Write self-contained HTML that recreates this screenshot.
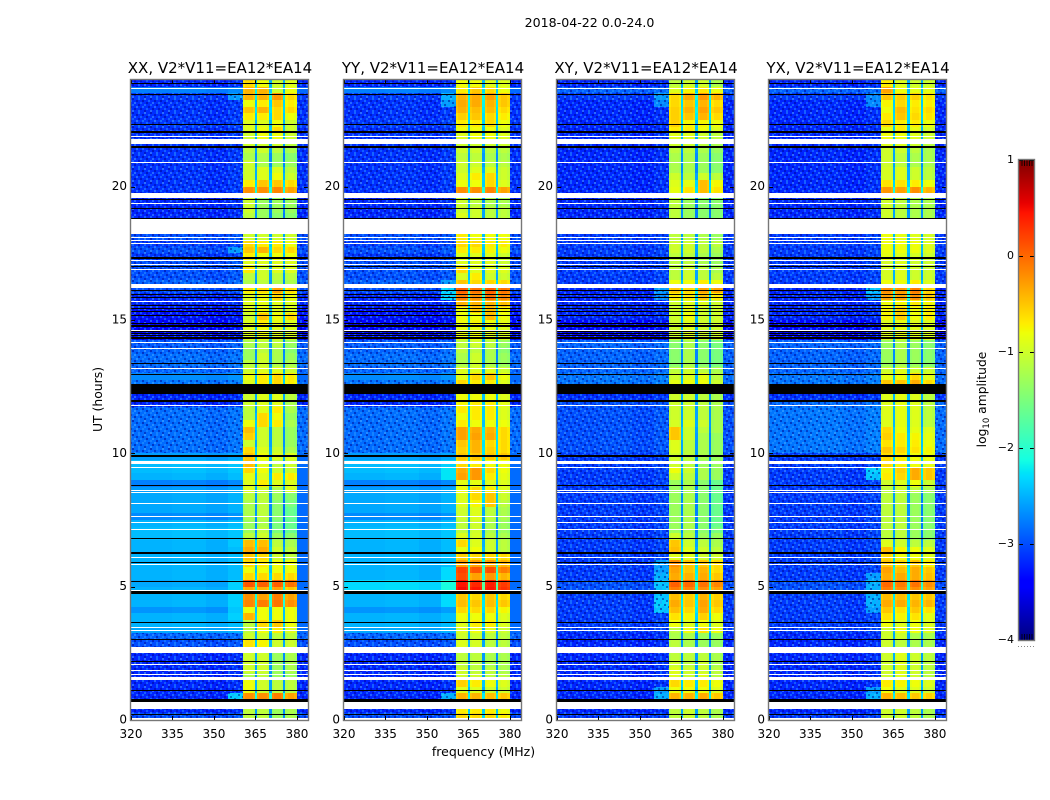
<!DOCTYPE html>
<html lang="en">
<head>
<meta charset="utf-8">
<title>2018-04-22 dynamic spectra</title>
<style>
html,body{margin:0;padding:0;background:#fff;}
svg{display:block;}
text{font-family:"DejaVu Sans","Liberation Sans",sans-serif;fill:#000;}
</style>
</head>
<body>
<svg id="figure" xmlns="http://www.w3.org/2000/svg" width="1050" height="800" viewBox="0 0 1050 800">
  <defs>
    <pattern id="mottle" patternUnits="userSpaceOnUse" width="18" height="14">
      <rect x="0" y="0" width="2" height="2" fill="#5fc0ff" fill-opacity=".45"/>
      <rect x="6" y="0" width="2" height="2" fill="#00008c" fill-opacity=".5"/>
      <rect x="12" y="0" width="2" height="2" fill="#2a9cff" fill-opacity=".5"/>
      <rect x="4" y="2" width="2" height="2" fill="#2a9cff" fill-opacity=".5"/>
      <rect x="10" y="2" width="2" height="2" fill="#00008c" fill-opacity=".45"/>
      <rect x="16" y="2" width="2" height="2" fill="#00008c" fill-opacity=".5"/>
      <rect x="2" y="4" width="2" height="2" fill="#00008c" fill-opacity=".5"/>
      <rect x="8" y="4" width="2" height="2" fill="#5fc0ff" fill-opacity=".4"/>
      <rect x="14" y="4" width="2" height="2" fill="#2a9cff" fill-opacity=".45"/>
      <rect x="0" y="6" width="2" height="2" fill="#2a9cff" fill-opacity=".5"/>
      <rect x="6" y="6" width="2" height="2" fill="#2a9cff" fill-opacity=".45"/>
      <rect x="12" y="6" width="2" height="2" fill="#00008c" fill-opacity=".5"/>
      <rect x="4" y="8" width="2" height="2" fill="#00008c" fill-opacity=".45"/>
      <rect x="10" y="8" width="2" height="2" fill="#5fc0ff" fill-opacity=".4"/>
      <rect x="16" y="8" width="2" height="2" fill="#2a9cff" fill-opacity=".5"/>
      <rect x="2" y="10" width="2" height="2" fill="#2a9cff" fill-opacity=".45"/>
      <rect x="8" y="10" width="2" height="2" fill="#00008c" fill-opacity=".5"/>
      <rect x="14" y="10" width="2" height="2" fill="#00008c" fill-opacity=".45"/>
      <rect x="0" y="12" width="2" height="2" fill="#00008c" fill-opacity=".45"/>
      <rect x="6" y="12" width="2" height="2" fill="#5fc0ff" fill-opacity=".4"/>
      <rect x="12" y="12" width="2" height="2" fill="#2a9cff" fill-opacity=".5"/>
    </pattern>
  </defs>
  <rect x="0" y="0" width="1050" height="800" fill="#fff"/>
  <text x="589.500" y="27" font-size="12.6" text-anchor="middle">2018-04-22 0.0-24.0</text>
  <text x="483.500" y="756" font-size="12.5" text-anchor="middle">frequency (MHz)</text>
  <text x="0" y="0" font-size="12.4" text-anchor="middle" transform="translate(102 399.500) rotate(-90)">UT (hours)</text>
  <text x="0" y="0" font-size="12.3" text-anchor="middle" transform="translate(986 399.500) rotate(-90)">log<tspan font-size="8.5" dy="3">10</tspan><tspan dy="-3"> amplitude</tspan></text>
  <g id="panels"></g>
  <g id="colorbar"></g>
</svg>
<script>
// Log10 amplitude, one row per quarter hour from 0 UT upward: [band1, band2, band3, band4]
const xxBands = [
[-1.1,-1.1,-1.3,-1.2],[-1.1,-1.1,-1.3,-1.2],[-1.1,-1.1,-1.3,-1.2],[-.2,-.2,-.1,-.3],
[-.8,-1,-1.1,-1.1],[-.8,-1,-1.1,-1.1],[-1.2,-1.1,-1.3,-1.3],[-1,-1,-1.3,-1.2],
[-1,-1,-1.3,-1.2],[-1,-1,-1.3,-1.2],[-1,-1,-1.3,-1.2],[-.65,-.75,-1,-1],
[-1,-1,-1.1,-1.1],[-1.1,-.8,-.7,-.9],[-1.1,-.6,-.5,-.8],[-.4,-.8,-.8,-.8],
[-.8,-.8,-.8,-.8],[-.15,-.1,-.05,-.2],[-.2,-.3,-.1,-.3],[-.35,-.4,-.3,-.5],
[.1,.05,.05,-.05],[-.6,-.6,-.6,-.6],[-.8,-.8,-.8,-.8],[-.6,-.7,-.8,-.8],
[-.5,-.6,-1,-1.1],[-.35,-.35,-1,-1.1],[-.45,-.45,-1.1,-1.2],[-1.1,-1,-1.3,-1.4],
[-1.3,-1.1,-1.5,-1.6],[-1.3,-1.2,-1.5,-1.6],[-1.2,-1.1,-1.4,-1.6],[-1.2,-1.1,-1.4,-1.6],
[-1.2,-1.1,-1.4,-1.5],[-1.1,-1.1,-1.3,-1.4],[-.9,-1,-1.2,-.9],[-.9,-.7,-.9,-.9],
[-.85,-.9,-.7,-.7],[-.6,-.8,-1,-1],[-.45,-.9,-1.1,-1],[-.5,-.8,-.9,-.9],
[-.6,-.9,-1,-1.2],[-1,-1,-1.1,-1.3],[-.55,-1,-1.1,-1.3],[-.45,-1,-1.1,-1.3],
[-.8,-.6,-.7,-1.2],[-1.1,-.6,-.8,-1.3],[-1.1,-.9,-.7,-1.2],[-1,-.9,-.9,-1.2],
[-1,-.9,-.9,-1.1],[-.9,-.8,-.8,-.9],[-.9,-.7,-.6,-.7],[-.8,-.7,-.6,-.7],
[-1,-.9,-.9,-1],[-1.1,-1,-1.2,-1.2],[-1.3,-1,-1.2,-1.3],[-1.3,-1.1,-1.2,-1.4],
[-1.2,-1.1,-1.1,-1.3],[-.9,-.8,-.9,-.9],[-.9,-.8,-.9,-.9],[-.9,-.7,-.85,-.9],
[-1,-.5,-.8,-.6],[-.9,-.8,-.9,-.9],[-.9,-.85,-.9,-.9],[-.9,-.8,-.6,-.8],
[-.7,-.6,-.3,-.6],[-1.2,-1.1,-1.2,-1.2],[-1.1,-1,-1.1,-1.1],[-.7,-1,-.9,-.9],
[-.9,-.9,-.9,-.9],[-.7,-.8,-.8,-.8],[-.5,-.4,-.6,-.6],[-.6,-.7,-.7,-.8],
[-1,-1,-1,-1],[-1,-1,-1,-1],[-1,-1,-1,-1],[-1.1,-1.3,-1.4,-1.4],
[-1,-1.3,-1.3,-1.3],[-1,-1.3,-1.3,-1.3],[-1,-1.3,-1.3,-1.3],[-.2,-.2,-.15,-.3],
[-.7,-.5,-.5,-.6],[-1,-.9,-.8,-1],[-1,-.9,-.9,-1.1],[-1,-1.2,-1.3,-1.3],
[-1.2,-1.2,-1.3,-1.4],[-1.1,-1,-1.1,-1.2],[-1,-1,-1,-1.1],[-1,-.8,-.8,-1],
[-.9,-.8,-.6,-1],[-.9,-.9,-.8,-1],[-.7,-.7,-.6,-.8],[-.5,-.4,-.6,-.6],
[-.8,-.7,-.5,-.7],[-.4,-.4,-.25,-.6],[-.4,-.4,-1,-.8],[-.6,-.8,-1,-.9]];

const yyBands = [
[-.6,-.6,-.6,-.7],[-.7,-.7,-.7,-.8],[-.7,-.7,-.7,-.8],[-.4,-.4,-.45,-.5],
[-.9,-.9,-1,-1],[-.55,-.7,-.8,-.9],[-1,-1,-1.1,-1.1],[-1,-1.1,-1.1,-1.2],
[-1.1,-1.1,-1.2,-1.2],[-1.1,-1.1,-1.2,-1.2],[-1.1,-1.1,-1.2,-1.2],[-.9,-.95,-1.1,-1.1],
[-1,-1,-1.1,-1.1],[-.9,-.8,-.9,-1],[-.9,-.7,-.7,-.9],[-.8,-.8,-.8,-.9],
[-.6,-.6,-.6,-.75],[-.45,-.5,-.45,-.5],[-.5,-.6,-.5,-.6],[.5,.45,.45,.3],
[.45,.35,.4,.25],[.15,-.3,-.25,-.4],[.2,.1,.15,-.1],[-.3,-.3,-.3,-.4],
[-.55,-.6,-.6,-.6],[-.85,-.8,-1,-1.1],[-.6,-.9,-1,-1.1],[-.9,-.95,-1.1,-1.2],
[-1.1,-1,-1.2,-1.3],[-1.1,-1,-1.2,-1.3],[-1,-.9,-1.1,-1.2],[-1,-.9,-1.1,-1.2],
[-.9,-.75,-.5,-1.1],[-.9,-.6,-.5,-1],[-.8,-.6,-.7,-.9],[-.85,-.85,-.9,-.9],
[-.3,-.25,-.7,-.85],[-.35,-.25,-.6,-.8],[-.6,-.7,-.8,-.8],[-.5,-.5,-.5,-.5],
[-.55,-.4,-.55,-.6],[-.5,-.4,-.6,-.6],[-.3,-.3,-.35,-.6],[-.3,-.35,-.4,-.6],
[-.7,-.8,-.8,-.8],[-.8,-.7,-.7,-.9],[-.7,-.7,-.7,-.9],[-.75,-.7,-.7,-.85],
[-.8,-.8,-.8,-.9],[-.8,-.8,-.8,-.9],[-.6,-.7,-.7,-.9],[-.85,-.6,-.5,-.8],
[-.9,-.9,-.9,-1],[-1.2,-1,-1.2,-1.3],[-1.2,-1,-1.2,-1.3],[-1.1,-1.1,-1.2,-1.4],
[-1.1,-1,-1.1,-1.3],[-.8,-.8,-.9,-.9],[-.85,-.85,-.85,-.9],[-.8,-.75,-.8,-.85],
[-.8,-.8,-.45,-.8],[-.8,-.5,-.45,-.75],[-.4,-.4,-.4,-.45],[-.1,-.2,-.05,-.15],
[.05,-.05,.05,-.05],[-.5,-.6,-.6,-.6],[-.95,-.7,-1,-1],[-.6,-.9,-.9,-.9],
[-.9,-.9,-.9,-1],[-.9,-.9,-.9,-1],[-.7,-.7,-.75,-.8],[-.6,-.6,-.7,-.7],
[-.7,-.8,-.8,-.8],[-.9,-.9,-.9,-.9],[-.9,-.9,-.9,-.9],[-.9,-1,-1.1,-1.1],
[-1,-1,-1.1,-1.1],[-1,-1.1,-1.2,-1.2],[-1,-1.1,-1.2,-1.2],[-.2,-.2,-.15,-.3],
[-.8,-.8,-.6,-.9],[-.9,-.7,-.6,-1],[-1,-.9,-.9,-1],[-1,-1,-1.1,-1.1],
[-1.1,-1.1,-1.2,-1.2],[-1,-1,-1.1,-1.1],[-1,-1,-1,-1],[-.9,-.8,-.8,-.9],
[-.8,-.8,-.8,-.9],[-.7,-.7,-.6,-.8],[-.55,-.5,-.6,-.7],[-.4,-.45,-.45,-.6],
[-.35,-.35,-.4,-.5],[-.4,-.35,-.3,-.5],[-.7,-.5,-.6,-.8],[-.8,-.8,-.9,-.9]];

const xyBands = [
[-1.1,-1,-1.1,-1.2],[-1.1,-1,-1.1,-1.2],[-1.1,-1,-1.1,-1.2],[-.4,-.4,-.35,-.5],
[-.8,-.8,-.8,-.9],[-.6,-.7,-.7,-.8],[-.9,-1,-.9,-1.1],[-.9,-1,-1,-1.1],
[-1,-1.1,-1,-1.2],[-1.1,-1.1,-1.1,-1.2],[-1.1,-1.1,-1.1,-1.2],[-1.1,-1.2,-1.3,-1.3],
[-1.2,-1.2,-1.3,-1.3],[-1.1,-.8,-.65,-.8],[-.8,-.9,-.8,-.9],[-.65,-.75,-.55,-.8],
[-.45,-.6,-.35,-.6],[-.35,-.5,-.3,-.5],[-.45,-.55,-.4,-.55],[-.1,-.15,-.2,-.3],
[.05,0,-.05,-.15],[-.35,-.4,-.35,-.5],[-.3,-.5,-.4,-.6],[-.2,-.5,-.5,-.6],
[-.9,-.9,-1,-1],[-.45,-.9,-1,-1.1],[-.5,-1,-1.1,-1.2],[-1,-1.1,-1.3,-1.3],
[-1.3,-1.2,-1.4,-1.5],[-1.3,-1.2,-1.4,-1.6],[-1.3,-1.2,-1.4,-1.6],[-1.3,-1.2,-1.4,-1.6],
[-1.3,-1.2,-1.4,-1.6],[-1.3,-1.2,-1.4,-1.6],[-1.3,-1.2,-1.4,-1.6],[-1.3,-1.2,-1.4,-1.6],
[-1,-1.1,-1.2,-1.3],[-.8,-1,-1.2,-1.3],[-1,-1.1,-1.3,-1.3],[-1,-1.1,-1.2,-1.3],
[-.9,-1.1,-1.2,-1.3],[-.9,-1.1,-1.2,-1.3],[-.5,-1,-1.2,-1.3],[-.5,-1,-1.1,-1.2],
[-.95,-.9,-1,-1.2],[-1,-1,-1.1,-1.2],[-1,-1,-1.1,-1.2],[-1,-1,-1.1,-1.2],
[-1,-1,-1.1,-1.2],[-1,-1,-1,-1.1],[-.85,-.8,-.8,-1],[-1,-.9,-.85,-1.1],
[-1.1,-1,-1.1,-1.2],[-1.4,-1.2,-1.4,-1.5],[-1.4,-1.2,-1.4,-1.5],[-1.4,-1.2,-1.4,-1.5],
[-1.4,-1.2,-1.4,-1.5],[-1,-.9,-1,-1],[-1,-.9,-1,-1],[-1,-.9,-1,-1],
[-1,-.8,-1,-1],[-1,-.85,-1,-1],[-1,-.9,-.9,-1],[-.7,-.7,-.5,-.7],
[-.5,-.6,-.3,-.3],[-.8,-.8,-.7,-.8],[-1.1,-1,-1.1,-1.1],[-1.1,-1,-1.1,-1.2],
[-1.1,-1.1,-1.2,-1.3],[-1.1,-1.1,-1.2,-1.3],[-1,-1,-1.1,-1.2],[-1,-1,-1.1,-1.1],
[-1.1,-1.1,-1.2,-1.3],[-1.1,-1.2,-1.3,-1.3],[-1.1,-1.2,-1.3,-1.3],[-1.1,-1.3,-1.4,-1.4],
[-1.1,-1.3,-1.4,-1.4],[-1.1,-1.3,-1.4,-1.4],[-1.1,-1.3,-1.4,-1.4],[-.85,-.65,-.45,-.65],
[-.9,-.85,-.45,-.75],[-1,-1.1,-1,-1.1],[-1.2,-1.2,-1.3,-1.4],[-1.2,-1.2,-1.3,-1.4],
[-1.2,-1.2,-1.3,-1.4],[-1.1,-1.1,-1.2,-1.3],[-1,-1,-1.1,-1.2],[-.9,-.9,-1,-1.1],
[-.7,-.7,-.8,-.9],[-.55,-.75,-.75,-.8],[-.55,-.5,-.4,-.6],[-.55,-.4,-.3,-.5],
[-.6,-.5,-.4,-.6],[-.6,-.35,-.25,-.4],[-.9,-.75,-.65,-.8],[-1.1,-1,-1,-1.2]];

const yxBands = [
[-1,-1,-1.1,-1.2],[-1,-1,-1.1,-1.2],[-1,-1,-1.1,-1.2],[-.4,-.45,-.5,-.55],
[-.8,-.9,-.9,-1],[-.7,-.75,-.8,-.9],[-1,-.9,-1,-1.1],[-1,-.9,-1,-1.1],
[-1,-.9,-1,-1.1],[-1,-.9,-1,-1.1],[-1,-.9,-1,-1.1],[-1,-1.1,-1.2,-1.2],
[-1,-1,-1.2,-1.2],[-1,-.8,-.8,-.9],[-.8,-.9,-.8,-.9],[-.65,-.75,-.65,-.85],
[-.5,-.65,-.5,-.65],[-.35,-.35,-.4,-.4],[-.45,-.45,-.5,-.5],[-.1,-.2,-.2,-.3],
[0,-.1,-.05,-.2],[-.35,-.35,-.35,-.45],[-.3,-.45,-.35,-.5],[-.5,-.6,-.5,-.7],
[-.6,-.8,-.8,-.9],[-.45,-.75,-.8,-.9],[-.9,-1,-1.1,-1.1],[-1.1,-1.1,-1.3,-1.4],
[-1.1,-1.1,-1.3,-1.4],[-1.1,-1.1,-1.3,-1.4],[-1.1,-1.1,-1.3,-1.4],[-1.1,-1.1,-1.3,-1.4],
[-1.1,-1.1,-1.3,-1.4],[-1.1,-1.1,-1.3,-1.4],[-1.1,-1,-1.1,-1.2],[-1,-.9,-.8,-1],
[-.7,-.6,-.35,-.5],[-.75,-.55,-.35,-.5],[-.6,-.75,-.8,-.85],[-.6,-.7,-.8,-.8],
[-.5,-.6,-.65,-.75],[-.65,-.7,-.7,-.8],[-.55,-.7,-.75,-.85],[-.6,-.8,-.85,-.9],
[-.9,-.85,-.9,-1.1],[-.9,-.85,-.9,-1.1],[-.9,-.85,-.9,-1.1],[-.9,-.85,-.9,-1.1],
[-.9,-.85,-.9,-1.1],[-.9,-.85,-.9,-1],[-.5,-.5,-.35,-.6],[-.85,-.8,-.6,-.85],
[-1,-.9,-1,-1],[-1.3,-1.2,-1.3,-1.4],[-1.3,-1.2,-1.3,-1.4],[-1.3,-1.2,-1.3,-1.4],
[-1.3,-1.2,-1.3,-1.4],[-.9,-.85,-.9,-.9],[-.9,-.85,-.9,-.9],[-.9,-.85,-.9,-.9],
[-.75,-.55,-.8,-.7],[-.75,-.55,-.8,-.7],[-.8,-.75,-.7,-.75],[-.3,-.3,-.2,-.5],
[-.2,-.25,-.1,-.55],[-.8,-.8,-.7,-.9],[-.95,-.9,-1,-1],[-.95,-.9,-1,-1],
[-.95,-.9,-1,-1],[-.85,-.9,-.95,-1],[-.8,-.8,-.8,-.9],[-.8,-.8,-.8,-.9],
[-.8,-.85,-.9,-.95],[-1,-1.1,-1.2,-1.2],[-1,-1.1,-1.2,-1.2],[-1,-1.1,-1.2,-1.2],
[-1,-1.1,-1.2,-1.2],[-1,-1.1,-1.2,-1.2],[-1,-1.1,-1.2,-1.2],[-.25,-.3,-.2,-.4],
[-.65,-.65,-.7,-.8],[-.95,-.9,-1,-1.1],[-.95,-.9,-1,-1.1],[-1,-1.1,-1.2,-1.2],
[-1,-1.1,-1.2,-1.2],[-1,-1,-1.1,-1.2],[-.9,-.9,-1,-1.1],[-.8,-.8,-.9,-1],
[-.85,-.7,-.85,-.95],[-.6,-.7,-.7,-.8],[-.7,-.5,-.6,-.65],[-.8,-.45,-.65,-.6],
[-.75,-.6,-.7,-.7],[-.5,-.55,-.55,-.65],[-.3,-.8,-.85,-.85],[-.7,-.9,-1,-1]];

// Off-band background level per quarter hour
const parallelBackground = [
-3.0,-3.2,-3.2,-3.2,-3.2,-3.2,-3.2,-3.2,-3.2,-3.2,-3.2,-3.0,
-2.9,-2.55,-2.5,-2.5,-2.65,-2.5,-2.5,-2.5,-2.55,-2.5,-2.5,-2.5,
-2.5,-2.5,-2.5,-2.45,-2.45,-2.5,-2.7,-2.55,-2.55,-2.55,-2.6,-2.75,
-2.5,-2.45,-2.45,-2.6,-2.85,-2.85,-2.85,-2.85,-2.85,-2.85,-2.85,-3.2,
-3.2,-3.2,-2.8,-2.7,-2.9,-2.85,-2.85,-2.9,-2.95,-3.3,-3.35,-3.35,
-3.3,-3.3,-3.2,-3.2,-3.0,-2.9,-3.0,-3.0,-3.0,-3.1,-3.0,-3.1,
-3.0,-3.1,-3.1,-3.2,-3.2,-3.2,-3.2,-3.15,-3.15,-3.15,-3.15,-3.15,
-3.15,-3.15,-3.15,-3.15,-3.15,-3.1,-3.15,-3.15,-3.15,-3.1,-2.75,-3.2];

const crossBackground = [
-3.1,-3.2,-3.2,-3.2,-3.2,-3.2,-3.2,-3.2,-3.2,-3.2,-3.2,-3.2,
-3.2,-3.1,-3.1,-3.1,-3.1,-3.1,-3.1,-3.0,-3.0,-3.1,-3.1,-3.1,
-3.1,-3.1,-3.1,-3.1,-3.1,-3.1,-3.1,-3.1,-3.1,-3.1,-3.1,-3.1,
-3.1,-3.1,-3.1,-3.1,-3.0,-3.0,-3.0,-3.0,-3.0,-3.0,-3.0,-3.0,
-3.15,-3.15,-2.8,-2.8,-2.9,-2.9,-2.9,-2.9,-2.9,-3.35,-3.35,-3.35,
-3.2,-3.2,-3.2,-3.2,-3.2,-3.1,-3.1,-3.1,-3.1,-3.1,-3.1,-3.1,
-3.1,-3.2,-3.2,-3.2,-3.2,-3.2,-3.2,-3.2,-3.2,-3.2,-3.2,-3.2,
-3.2,-3.2,-3.2,-3.2,-3.2,-3.2,-3.2,-3.2,-3.2,-3.1,-2.9,-3.2];

// Panel specific departures from the shared background: [quarter-hour row, level]
const xxBackgroundOverrides = [];
const yyBackgroundOverrides = [[19,-2.3],[20,-2.3]];
const xyBackgroundOverrides = [];
const yxBackgroundOverrides = [[40,-2.8],[41,-2.8],[42,-2.8],[43,-2.8],[44,-2.8],[45,-2.8],[46,-2.8],[47,-2.85]];

// Raised skirt just below the first band: [quarter-hour row, level]
const xxShoulder = [[3,-2.35],[15,-2.35],[16,-2.4],[17,-2.35],[18,-2.35],[19,-2.35],[20,-2.35],[26,-2.4],[27,-2.4],[70,-2.6],[93,-2.6]];
const yyShoulder = [[3,-2.5],[17,-2.3],[18,-2.3],[19,-2.1],[20,-2.1],[21,-2.3],[22,-2.3],[36,-2.25],[37,-2.25],[38,-2.35],[63,-2.3],[64,-2.3],[65,-2.6],[92,-2.6],[93,-2.5]];
const xyShoulder = [[3,-2.5],[4,-2.6],[16,-2.4],[17,-2.35],[18,-2.4],[19,-2.4],[20,-2.4],[21,-2.5],[22,-2.6],[23,-2.6],[63,-2.7],[64,-2.6],[92,-2.7],[93,-2.6]];
const yxShoulder = [[3,-2.5],[4,-2.6],[16,-2.6],[17,-2.5],[18,-2.5],[19,-2.5],[20,-2.5],[21,-2.6],[36,-2.4],[37,-2.35],[63,-2.6],[64,-2.4],[92,-2.7],[93,-2.7]];

// Flagged time ranges in hours, common to all four correlation products
const whiteFlagHours = [
[0,.09],[.41,.68],[1.5,1.61],[1.71,1.74],[1.82,1.86],[2.06,2.1],[2.51,2.74],[3.32,3.38],[3.45,3.49],
[4.84,4.88],[5.81,5.85],[6.08,6.11],[7.13,7.16],[7.37,7.43],[7.61,7.65],[8.1,8.14],[8.51,8.55],[8.59,8.63],
[9.45,9.49],[9.6,9.71],[11.76,11.81],[13.16,13.2],[13.91,13.95],[14.14,14.18],[14.59,14.63],[15.68,15.71],
[16.2,16.35],[16.88,16.91],[17.06,17.1],[17.21,17.25],[17.85,17.89],[17.96,18],[18.07,18.11],[18.22,18.77],
[19.35,19.39],[19.58,19.76],[20.89,20.93],[21.61,21.79],[21.85,21.9],[23.65,23.7]];
const blackFlagHours = [
[.19,.22],[.69,.77],[1.11,1.14],[2.18,2.21],[3.02,3.05],[3.66,3.69],[4.74,4.83],[5.18,5.21],[5.89,5.92],
[6.23,6.29],[6.77,6.81],[8.78,8.82],[9.88,9.92],[11.92,11.95],[11.98,12.01],[12.23,12.6],[12.92,12.96],[13.35,13.39],
[14.29,14.32],[14.35,14.38],[14.41,14.44],[14.48,14.51],[14.54,14.57],[14.74,14.77],[14.8,14.83],[14.86,14.89],
[15.17,15.2],[15.3,15.33],[15.42,15.45],[15.55,15.58],
[15.83,15.86],[15.96,15.99],[16.09,16.12],[16.99,17.03],[17.29,17.36],[18.77,18.81],
[19.16,19.2],[19.5,19.54],[21.45,21.53],[22.01,22.09],[22.31,22.35],[23.42,23.48],[23.85,23.89]];

const bandEdgesMHz = [[360.5,364.8],[365.6,369.9],[370.9,375],[375.8,379.9]];
const backgroundEdgesMHz = [320,335,347,355];
const backgroundTilt = [0,.02,-.02];
const panelTitles = ["XX, V2*V11=EA12*EA14","YY, V2*V11=EA12*EA14","XY, V2*V11=EA12*EA14","YX, V2*V11=EA12*EA14"];
const xTickLabels = [320,335,350,365,380];
const yTickLabels = [0,5,10,15,20];
const colorbarTickLabels = [1,0,-1,-2,-3,-4];

const SVG_NS = "http://www.w3.org/2000/svg";
const panelsRoot = document.getElementById("panels");
const colorbarRoot = document.getElementById("colorbar");
const PANEL_LEFTS = [131,344,557,769];
const PANEL_W = 177, PANEL_TOP = 80, PANEL_BOTTOM = 720;
const FREQ_MIN = 320, FREQ_MAX = 384, HOURS_MAX = 24, ROW_HOURS = .25;
const V_MIN = -4, V_MAX = 1, MOTTLE_BELOW = -2.75;

function ramp(t, pts){
  for(let i = 1; i < pts.length; i++){
    if(t <= pts[i][0]){
      const a = pts[i-1], b = pts[i];
      return a[1] + (b[1]-a[1]) * (t-a[0]) / (b[0]-a[0]);
    }
  }
  return pts[pts.length-1][1];
}
function jet(v){
  const t = Math.max(0, Math.min(1, (v-V_MIN)/(V_MAX-V_MIN)));
  const r = ramp(t, [[0,0],[.35,0],[.66,1],[.89,1],[1,.5]]);
  const g = ramp(t, [[0,0],[.125,0],[.375,1],[.64,1],[.91,0],[1,0]]);
  const b = ramp(t, [[0,.5],[.11,1],[.34,1],[.65,0],[1,0]]);
  return "rgb(" + Math.round(r*255) + "," + Math.round(g*255) + "," + Math.round(b*255) + ")";
}
function xScale(left, f){ return left + (f-FREQ_MIN)/(FREQ_MAX-FREQ_MIN)*PANEL_W; }
function yScale(h){ return PANEL_BOTTOM - h/HOURS_MAX*(PANEL_BOTTOM-PANEL_TOP); }
function make(tag, parent, attrs){
  const el = document.createElementNS(SVG_NS, tag);
  for(const k in attrs){ el.setAttribute(k, attrs[k]); }
  parent.appendChild(el);
  return el;
}
function lookup(pairs, row, fallback){
  for(const p of pairs){ if(p[0] === row){ return p[1]; } }
  return fallback;
}

const panelSeries = [
  {bands:xxBands, bg:parallelBackground, over:xxBackgroundOverrides, shoulder:xxShoulder},
  {bands:yyBands, bg:parallelBackground, over:yyBackgroundOverrides, shoulder:yyShoulder},
  {bands:xyBands, bg:crossBackground, over:xyBackgroundOverrides, shoulder:xyShoulder},
  {bands:yxBands, bg:crossBackground, over:yxBackgroundOverrides, shoulder:yxShoulder}
];

function drawCell(group, left, f0, f1, row, value){
  const x0 = Math.round(xScale(left, f0));
  const x1 = Math.round(xScale(left, f1));
  const y1 = Math.round(yScale(row*ROW_HOURS));
  const y0 = Math.round(yScale((row+1)*ROW_HOURS));
  if(x1 <= x0 || y1 <= y0){ return; }
  const cell = make("rect", group, {x:x0, y:y0, width:x1-x0, height:y1-y0, fill:jet(value), "shape-rendering":"crispEdges"});
  
  
}
function drawMottle(group, left, f0, f1, row){
  const x0 = Math.round(xScale(left, f0));
  const x1 = Math.round(xScale(left, f1));
  const y1 = Math.round(yScale(row*ROW_HOURS));
  const y0 = Math.round(yScale((row+1)*ROW_HOURS));
  const patch = make("rect", group, {x:x0, y:y0, width:x1-x0, height:y1-y0, fill:"url(#mottle)", "shape-rendering":"crispEdges"});
  
  
}

panelSeries.forEach(function(series, p){
  const left = PANEL_LEFTS[p];
  const panel = make("g", panelsRoot, {});
  
  
  const heat = make("g", panel, {});
  
  

  series.bands.forEach(function(levels, row){
    const bg = lookup(series.over, row, series.bg[row]);
    for(let c = 0; c < backgroundTilt.length; c++){
      drawCell(heat, left, backgroundEdgesMHz[c], backgroundEdgesMHz[c+1], row, bg + backgroundTilt[c]);
    }
    drawCell(heat, left, backgroundEdgesMHz[3], bandEdgesMHz[0][0], row, lookup(series.shoulder, row, bg + .05));
    levels.forEach(function(level, b){
      const e = bandEdgesMHz[b];
      drawCell(heat, left, e[0], e[0]+.8, row, level - .08);
      drawCell(heat, left, e[0]+.8, e[1]-.8, row, level);
      drawCell(heat, left, e[1]-.8, e[1], row, level - .08);
      if(b < levels.length-1){
        const notch = .6*(level + levels[b+1])/2 - 1.95;
        drawCell(heat, left, e[1], bandEdgesMHz[b+1][0], row, notch);
      }
    });
    drawCell(heat, left, bandEdgesMHz[3][1], FREQ_MAX, row, Math.min(bg, -2.85));
    if(bg < MOTTLE_BELOW){
      drawMottle(heat, left, FREQ_MIN, bandEdgesMHz[0][0], row);
      drawMottle(heat, left, bandEdgesMHz[3][1], FREQ_MAX, row);
    }
  });

  whiteFlagHours.forEach(function(flag){
    const y0 = Math.round(yScale(flag[1]));
    const h = Math.max(1, Math.round(yScale(flag[0])) - y0);
    const bar = make("rect", panel, {x:left, y:y0, width:PANEL_W, height:h, fill:"#fff", "shape-rendering":"crispEdges"});
    
    
  });
  blackFlagHours.forEach(function(flag){
    const y0 = Math.round(yScale(flag[1]));
    const h = Math.max(1, Math.round(yScale(flag[0])) - y0);
    const bar = make("rect", panel, {x:left, y:y0, width:PANEL_W, height:h, fill:"#000", "shape-rendering":"crispEdges"});
    
    
  });

  xTickLabels.forEach(function(f){
    const x = Math.round(xScale(left, f)) + .5;
    const tickB = make("line", panel, {x1:x, x2:x, y1:PANEL_BOTTOM, y2:PANEL_BOTTOM-4, stroke:"#000", "stroke-width":1});
    
    
    const tickT = make("line", panel, {x1:x, x2:x, y1:PANEL_TOP, y2:PANEL_TOP+4, stroke:"#000", "stroke-width":1});
    
    
    const label = make("text", panel, {x:xScale(left, f), y:738, "font-size":12, "text-anchor":"middle"});
    label.textContent = String(f);
    
    
  });
  yTickLabels.forEach(function(h){
    const y = Math.round(yScale(h)) + .5;
    const tickL = make("line", panel, {x1:left, x2:left+4, y1:y, y2:y, stroke:"#000", "stroke-width":1});
    
    
    const tickR = make("line", panel, {x1:left+PANEL_W, x2:left+PANEL_W-4, y1:y, y2:y, stroke:"#000", "stroke-width":1});
    
    
    const label = make("text", panel, {x:left-4, y:yScale(h)+3.5, "font-size":12, "text-anchor":"end"});
    label.textContent = String(h);
    
    
  });

  const frame = make("rect", panel, {x:left-.5, y:PANEL_TOP-.5, width:PANEL_W+1, height:PANEL_BOTTOM-PANEL_TOP+1, fill:"none", stroke:"#777", "stroke-width":1.4});
  
  

  const title = make("text", panel, {x:left+PANEL_W/2+.5, y:73, "font-size":15, "text-anchor":"middle"});
  title.textContent = panelTitles[p];
  
  
});

// Colorbar
const CB_LEFT = 1019, CB_RIGHT = 1034, CB_TOP = 160, CB_BOTTOM = 640;
function cbY(v){ return CB_BOTTOM - (v-V_MIN)/(V_MAX-V_MIN)*(CB_BOTTOM-CB_TOP); }
for(let y = CB_TOP; y < CB_BOTTOM; y++){
  const v = V_MIN + (CB_BOTTOM-y-.5)/(CB_BOTTOM-CB_TOP)*(V_MAX-V_MIN);
  const strip = make("rect", colorbarRoot, {x:CB_LEFT, y:y, width:CB_RIGHT-CB_LEFT, height:1, fill:jet(v), "shape-rendering":"crispEdges"});
  
  
}
const minorXs = [1022,1024.500,1027,1029.500,1032];
minorXs.forEach(function(x){
  const topMark = make("line", colorbarRoot, {x1:x, x2:x, y1:CB_TOP, y2:CB_TOP+6, stroke:"#000", "stroke-width":.8});
  
  
  const botMark = make("line", colorbarRoot, {x1:x, x2:x, y1:CB_BOTTOM, y2:CB_BOTTOM-6, stroke:"#000", "stroke-width":.8});
  
  
});
const dotXs = [1018,1021,1024,1027,1030,1033];
dotXs.forEach(function(x){
  const dot = make("rect", colorbarRoot, {x:x, y:646, width:1, height:1, fill:"#888"});
  
  
});
colorbarTickLabels.forEach(function(v){
  const y = Math.round(cbY(v)) + .5;
  const left = make("line", colorbarRoot, {x1:CB_LEFT, x2:CB_LEFT+4, y1:y, y2:y, stroke:"#000", "stroke-width":1});
  
  
  const right = make("line", colorbarRoot, {x1:CB_RIGHT, x2:CB_RIGHT-4, y1:y, y2:y, stroke:"#000", "stroke-width":1});
  
  
  const label = make("text", colorbarRoot, {x:CB_LEFT-5, y:cbY(v)+3, "font-size":11, "text-anchor":"end"});
  label.textContent = v < 0 ? "\u2212" + Math.abs(v) : String(v);
  
  
});
const cbFrame = make("rect", colorbarRoot, {x:CB_LEFT-.5, y:CB_TOP-.5, width:CB_RIGHT-CB_LEFT+1, height:CB_BOTTOM-CB_TOP+1, fill:"none", stroke:"#777", "stroke-width":1.4});


</script>
</body>
</html>
